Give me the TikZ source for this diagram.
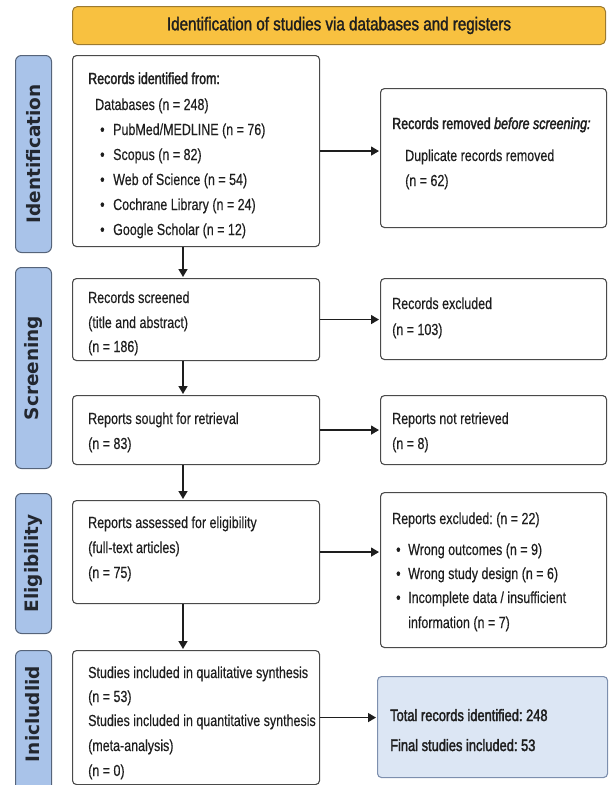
\documentclass[tikz,border=0pt]{standalone}
\usepackage{fontspec}
\setmainfont{Liberation Sans}[FakeStretch=0.78,FakeBold=0.3]
\newfontfamily\labfont{DejaVu Sans Bold}
\newfontfamily\medfont{Liberation Sans}[FakeStretch=0.78,FakeBold=2]
\newfontfamily\hdrfont{Liberation Sans}[FakeStretch=0.82,FakeBold=1.5]
\usetikzlibrary{arrows.meta}
\frenchspacing
\definecolor{hdrfill}{HTML}{F8C140}
\definecolor{hdrdraw}{HTML}{9C7A30}
\definecolor{labfill}{HTML}{A9C3E9}
\definecolor{labdraw}{HTML}{56647A}
\definecolor{boxdraw}{HTML}{4A4A4A}
\definecolor{sumfill}{HTML}{DCE6F4}
\definecolor{sumdraw}{HTML}{7D8FAE}
\definecolor{ink}{HTML}{1E1E1E}
\definecolor{labink}{HTML}{23272F}
\tikzset{
  boxnode/.style={draw=boxdraw,line width=1.1pt,fill=white,rounded corners=4pt,anchor=north west,inner sep=0pt},
  labnode/.style={draw=labdraw,line width=1pt,fill=labfill,rounded corners=6pt,anchor=north west,inner sep=0pt},
  labtext/.style={rotate=90,font=\labfont\fontsize{18.5}{19}\selectfont,text=labink,inner sep=0pt},
  txt/.style={anchor=base west,inner sep=0pt,text=ink,font=\fontsize{16}{18}\selectfont},
  htxt/.style={anchor=base west,inner sep=0pt,text=ink,font=\medfont\fontsize{16}{18}\selectfont},
  arr/.style={draw=ink,line width=1.4pt,-{Triangle[length=8pt,width=9pt]},shorten >=1pt}
}
\newcommand\bul{\makebox[13pt][l]{\textbullet}}
\begin{document}
\begin{tikzpicture}[x=1pt,y=-1pt]
\useasboundingbox (0,0) rectangle (611,785);
% header
\node[draw=hdrdraw,line width=1pt,fill=hdrfill,rounded corners=5pt,anchor=north west,inner sep=0pt,minimum width=533pt,minimum height=38pt] (hdr) at (72,6) {};
\node[font=\hdrfont\fontsize{18.5}{20}\selectfont,text=ink,inner sep=0pt] (hdrt) at (hdr.center) {Identification of studies via databases and registers};
% side labels
\node[labnode,minimum width=36pt,minimum height=197pt] (l1) at (15,55) {};
\node[labtext] (l1t) at (l1.center) {Identification};
\node[labnode,minimum width=36pt,minimum height=201pt] (l2) at (15,267) {};
\node[labtext] (l2t) at (l2.center) {Screening};
\node[labnode,minimum width=36pt,minimum height=140pt] (l3) at (15,493) {};
\node[labtext] (l3t) at (l3.center) {Eligibility};
\node[labnode,minimum width=36pt,minimum height=145pt] (l4) at (15,650) {};
\node[labtext] (l4t) at (33,714) {Inicludlid};
% left boxes
\node[boxnode,minimum width=247pt,minimum height=191pt] (b1) at (72,55) {};
\node[boxnode,minimum width=247pt,minimum height=82pt] (b3) at (72,278) {};
\node[boxnode,minimum width=247pt,minimum height=69pt] (b5) at (72,395) {};
\node[boxnode,minimum width=247pt,minimum height=103pt] (b7) at (72,500) {};
\node[boxnode,minimum width=247pt,minimum height=134pt] (b9) at (72,650) {};
% right boxes
\node[boxnode,minimum width=226pt,minimum height=139pt] (b2) at (380,88) {};
\node[boxnode,minimum width=226pt,minimum height=81pt] (b4) at (380,278) {};
\node[boxnode,minimum width=226pt,minimum height=69pt] (b6) at (380,395) {};
\node[boxnode,minimum width=226pt,minimum height=155pt] (b8) at (380,492) {};
\node[boxnode,draw=sumdraw,fill=sumfill,minimum width=230pt,minimum height=101pt] (b10) at (377,676) {};
% texts box1
\node[htxt] (t1a) at (88,84) {Records identified from:};
\node[txt] (t1b) at (95,110) {Databases (n = 248)};
\node[txt] (t1c) at (100,135) {\bul PubMed/MEDLINE (n = 76)};
\node[txt] (t1d) at (100,160) {\bul Scopus (n = 82)};
\node[txt] (t1e) at (100,185) {\bul Web of Science (n = 54)};
\node[txt] (t1f) at (100,210) {\bul Cochrane Library (n = 24)};
\node[txt] (t1g) at (100,235) {\bul Google Scholar (n = 12)};
% box2
\node[htxt] (t2a) at (392,129) {Records removed \textit{before screening:}};
\node[txt] (t2b) at (405,161) {Duplicate records removed};
\node[txt] (t2c) at (405,186) {(n = 62)};
% box3
\node[txt] (t3a) at (88,303) {Records screened};
\node[txt] (t3b) at (88,328) {(title and abstract)};
\node[txt] (t3c) at (88,352) {(n = 186)};
% box4
\node[txt] (t4a) at (392,309) {Records excluded};
\node[txt] (t4b) at (392,335) {(n = 103)};
% box5
\node[txt] (t5a) at (88,424) {Reports sought for retrieval};
\node[txt] (t5b) at (88,449) {(n = 83)};
% box6
\node[txt] (t6a) at (392,424) {Reports not retrieved};
\node[txt] (t6b) at (392,449) {(n = 8)};
% box7
\node[txt] (t7a) at (88,528) {Reports assessed for eligibility};
\node[txt] (t7b) at (88,553) {(full-text articles)};
\node[txt] (t7c) at (88,578) {(n = 75)};
% box8
\node[txt] (t8a) at (392,524) {Reports excluded: (n = 22)};
\node[txt] (t8b) at (396,555) {\makebox[12pt][l]{\textbullet}Wrong outcomes (n = 9)};
\node[txt] (t8c) at (396,579) {\makebox[12pt][l]{\textbullet}Wrong study design (n = 6)};
\node[txt] (t8d) at (396,603) {\makebox[12pt][l]{\textbullet}Incomplete data / insufficient};
\node[txt] (t8e) at (408,628) {information (n = 7)};
% box9
\node[txt] (t9a) at (88,678) {Studies included in qualitative synthesis};
\node[txt] (t9b) at (88,702) {(n = 53)};
\node[txt] (t9c) at (88,726) {Studies included in quantitative synthesis};
\node[txt] (t9d) at (88,751) {(meta-analysis)};
\node[txt] (t9e) at (88,776) {(n = 0)};
% box10
\node[txt,font=\medfont\fontsize{16.5}{18}\selectfont] (t10a) at (390,721) {Total records identified: 248};
\node[txt,font=\medfont\fontsize{16.5}{18}\selectfont] (t10b) at (390,751) {Final studies included: 53};
% arrows
\coordinate (ax) at (183,0);
\draw[arr] (b1.south -| ax) -- (b3.north -| ax);
\draw[arr] (b3.south -| ax) -- (b5.north -| ax);
\draw[arr] (b5.south -| ax) -- (b7.north -| ax);
\draw[arr] (b7.south -| ax) -- (b9.north -| ax);
\draw[arr] (b1.east) -- (b1.east -| b2.west);
\draw[arr] (b3.east) -- (b3.east -| b4.west);
\draw[arr] (b5.east) -- (b5.east -| b6.west);
\draw[arr] (b7.east) -- (b7.east -| b8.west);
\draw[arr] (b9.east) -- (b9.east -| b10.west);
\end{tikzpicture}
\end{document}
